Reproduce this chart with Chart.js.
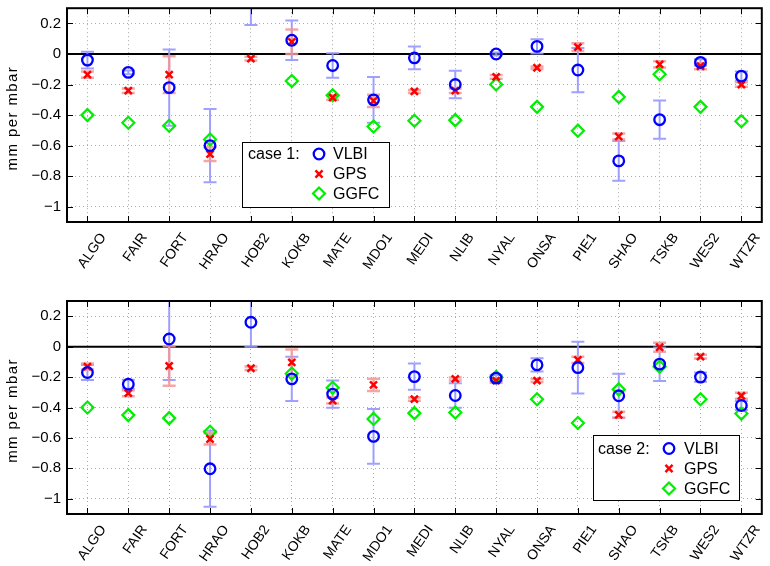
<!DOCTYPE html>
<html>
<head>
<meta charset="utf-8">
<script src="https://cdn.jsdelivr.net/npm/chart.js@4.4.1/dist/chart.umd.min.js"></script>
<style>
html,body{margin:0;padding:0;background:#fff;}
.box{position:absolute;left:0;width:770px;height:283px;}
</style>
</head>
<body>
<div class="box" style="top:0"><canvas id="chart1"></canvas></div>
<div class="box" style="top:283px"><canvas id="chart2"></canvas></div>
<script>
/* DATA */

const stations = ["ALGO","FAIR","FORT","HRAO","HOB2","KOKB","MATE","MDO1","MEDI","NLIB","NYAL","ONSA","PIE1","SHAO","TSKB","WES2","WTZR"];

const yTicks = [-1,-0.8,-0.6,-0.4,-0.2,0,0.2];

const yTitle = "mm per mbar";

/* case 1 */
const vlbi1    = [-0.04,-0.12,-0.22,-0.60,0.36,0.09,-0.075,-0.30,-0.025,-0.20,0.0,0.05,-0.105,-0.70,-0.43,-0.055,-0.145];
const vlbiErr1 = [0.055,0.012,0.25,0.24,0.17,0.13,0.08,0.15,0.075,0.09,0.01,0.047,0.145,0.13,0.125,0.02,0.03];
const gps1     = [-0.135,-0.24,-0.135,-0.655,-0.03,0.08,-0.285,-0.307,-0.245,-0.24,-0.15,-0.09,0.045,-0.54,-0.068,-0.08,-0.2];
const gpsErr1  = [0.02,0.015,0.12,0.045,0.012,0.08,0.015,0.04,0.01,0.015,0.012,0.008,0.025,0.02,0.02,0.02,0.015];

/* case 2 */
const vlbi2    = [-0.17,-0.247,0.05,-0.803,0.16,-0.212,-0.312,-0.59,-0.197,-0.321,-0.207,-0.12,-0.138,-0.323,-0.115,-0.2,-0.387];
const vlbiErr2 = [0.05,0.03,0.27,0.25,0.16,0.145,0.09,0.18,0.087,0.08,0.02,0.044,0.17,0.145,0.11,0.03,0.03];
const gps2     = [-0.131,-0.306,-0.127,-0.607,-0.142,-0.103,-0.354,-0.251,-0.345,-0.212,-0.223,-0.223,-0.087,-0.448,-0.004,-0.066,-0.323];
const gpsErr2  = [0.02,0.02,0.13,0.037,0.012,0.085,0.02,0.04,0.01,0.01,0.015,0.01,0.02,0.02,0.03,0.012,0.02];

/* GGFC (same in both cases) */
const ggfc = [-0.40,-0.45,-0.47,-0.56,null,-0.177,-0.27,-0.475,-0.437,-0.433,-0.199,-0.346,-0.502,-0.281,-0.132,-0.346,-0.44];

const FONT = "'Liberation Sans', Arial, sans-serif";
Chart.defaults.font.family = FONT;
Chart.defaults.color = "#000";

/* ZERO LINE + ERROR BARS */

const errorBars = {
  id:"errorBars",
  beforeDatasetsDraw(chart, args, opts){
    const {ctx, chartArea:a, scales:{x, y}} = chart;
    const y0 = y.getPixelForValue(0);
    ctx.save();
    ctx.strokeStyle = "#000";
    ctx.lineWidth = 2;
    ctx.beginPath();
    ctx.moveTo(a.left, y0);
    ctx.lineTo(a.right, y0);
    ctx.stroke();
    ctx.beginPath();
    ctx.rect(a.left, a.top, a.width, a.height);
    ctx.clip();
    opts.bars.forEach(b => {
      ctx.strokeStyle = b.color;
      ctx.lineWidth = b.width;
      b.values.forEach((v, i) => {
        if (v == null) return;
        const px = x.getPixelForValue(i);
        const y1 = y.getPixelForValue(v - b.errors[i]);
        const y2 = y.getPixelForValue(v + b.errors[i]);
        ctx.beginPath();
        ctx.moveTo(px, y1); ctx.lineTo(px, y2);
        ctx.moveTo(px - b.cap, y1); ctx.lineTo(px + b.cap, y1);
        ctx.moveTo(px - b.cap, y2); ctx.lineTo(px + b.cap, y2);
        ctx.stroke();
      });
    });
    ctx.restore();
  }
};

/* BOX + INNER TICKS + Y TITLE */

const frame = {
  id:"frame",
  afterDraw(chart){
    const {ctx, chartArea:a, scales:{x, y}} = chart;
    ctx.save();
    ctx.strokeStyle = "#000";
    ctx.lineWidth = 1;
    ctx.beginPath();
    stations.forEach((s, i) => {
      const px = Math.round(x.getPixelForValue(i)) + 0.5;
      ctx.moveTo(px, a.bottom); ctx.lineTo(px, a.bottom - 6);
      ctx.moveTo(px, a.top); ctx.lineTo(px, a.top + 6);
    });
    yTicks.forEach(v => {
      const py = Math.round(y.getPixelForValue(v)) + 0.5;
      ctx.moveTo(a.left, py); ctx.lineTo(a.left + 6, py);
      ctx.moveTo(a.right, py); ctx.lineTo(a.right - 6, py);
    });
    ctx.stroke();
    ctx.lineWidth = 2;
    ctx.strokeRect(a.left, a.top, a.width, a.height);

    ctx.translate(13, (a.top + a.bottom) / 2 + 3);
    ctx.rotate(-Math.PI / 2);
    ctx.font = "15px " + FONT;
    ctx.letterSpacing = "1.4px";
    ctx.textAlign = "center";
    ctx.textBaseline = "middle";
    ctx.fillStyle = "#000";
    ctx.fillText(yTitle, 0, 0);
    ctx.restore();
  }
};

/* LEGEND BOX */

const caseLegend = {
  id:"caseLegend",
  afterDraw(chart, args, o){
    const ctx = chart.ctx;
    ctx.save();
    ctx.fillStyle = "#fff";
    ctx.fillRect(o.x, o.y, o.w, o.h);
    ctx.strokeStyle = "#000";
    ctx.lineWidth = 1;
    ctx.strokeRect(o.x + 0.5, o.y + 0.5, o.w, o.h);
    ctx.font = "16px " + FONT;
    ctx.textBaseline = "middle";
    ctx.fillStyle = "#000";
    ctx.fillText(o.title, o.titleX, o.rows[0] + 1);
    chart.data.datasets.forEach((ds, i) => {
      ctx.strokeStyle = ds.pointBorderColor;
      ctx.fillStyle = "rgba(0,0,0,0)";
      ctx.lineWidth = ds.pointBorderWidth;
      Chart.helpers.drawPoint(ctx, {pointStyle: ds.pointStyle, radius: ds.pointRadius, borderWidth: ds.pointBorderWidth, rotation: 0}, o.markX, o.rows[i]);
      ctx.fillStyle = "#000";
      ctx.fillText(ds.label, o.textX, o.rows[i] + 1);
    });
    ctx.restore();
  }
};

function makeChart(id, vlbi, vlbiErr, gps, gpsErr, padTop, axisH, legend){
  return new Chart(document.getElementById(id), {
    type:"line",
    data:{
      labels: stations,
      datasets:[
        {label:"VLBI", data: vlbi, showLine:false, pointStyle:"circle", pointRadius:5.3,
         pointBorderColor:"#0000ff", pointBackgroundColor:"rgba(0,0,0,0)", pointBorderWidth:2.3},
        {label:"GPS", data: gps, showLine:false, pointStyle:"crossRot", pointRadius:5,
         pointBorderColor:"#ff0000", pointBackgroundColor:"rgba(0,0,0,0)", pointBorderWidth:2.5},
        {label:"GGFC", data: ggfc, showLine:false, pointStyle:"rectRot", pointRadius:6,
         pointBorderColor:"#00ee00", pointBackgroundColor:"rgba(0,0,0,0)", pointBorderWidth:2.2}
      ]
    },
    options:{
      responsive:true,
      maintainAspectRatio:false,
      animation:false,
      devicePixelRatio:1,
      layout:{padding:{top:padTop, right:2, left:0, bottom:0}},
      plugins:{
        legend:{display:false},
        tooltip:{enabled:false},
        errorBars:{bars:[
          {values: vlbi, errors: vlbiErr, color:"rgba(150,150,255,0.9)", width:2, cap:6.5},
          {values: gps, errors: gpsErr, color:"rgba(242,150,150,0.85)", width:2.5, cap:6.5}
        ]},
        caseLegend: legend
      },
      scales:{
        x:{
          type:"category",
          offset:true,
          grid:{offset:false, color:"#aaa", drawTicks:false},
          border:{display:false, dash:[1,3]},
          ticks:{autoSkip:false, minRotation:55, maxRotation:55, padding:8, labelOffset:16, font:{size:14}},
          afterFit: s => { s.height = axisH; }
        },
        y:{
          min:-1.1,
          max:0.3,
          afterBuildTicks: s => { s.ticks = yTicks.map(v => ({value:v})); },
          afterFit: s => { s.width = 67; s.paddingTop = 0; s.paddingBottom = 0; },
          grid:{color:"#aaa", drawTicks:false},
          border:{display:false, dash:[1,3]},
          ticks:{padding:6, font:{size:15},
            callback: v => v === 0 ? "0" : (v < 0 ? "\u2212" + Math.abs(v) : String(v))}
        }
      }
    },
    plugins:[errorBars, frame, caseLegend]
  });
}

makeChart("chart1", vlbi1, vlbiErr1, gps1, gpsErr1, 8, 61,
  {title:"case 1:", x:242, y:142, w:147, h:65, titleX:248, markX:319, textX:333, rows:[154,174,193.5]});

makeChart("chart2", vlbi2, vlbiErr2, gps2, gpsErr2, 18, 52,
  {title:"case 2:", x:593, y:152, w:146, h:65, titleX:598, markX:669, textX:684, rows:[165.5,185.5,205.5]});
</script>
</body>
</html>
